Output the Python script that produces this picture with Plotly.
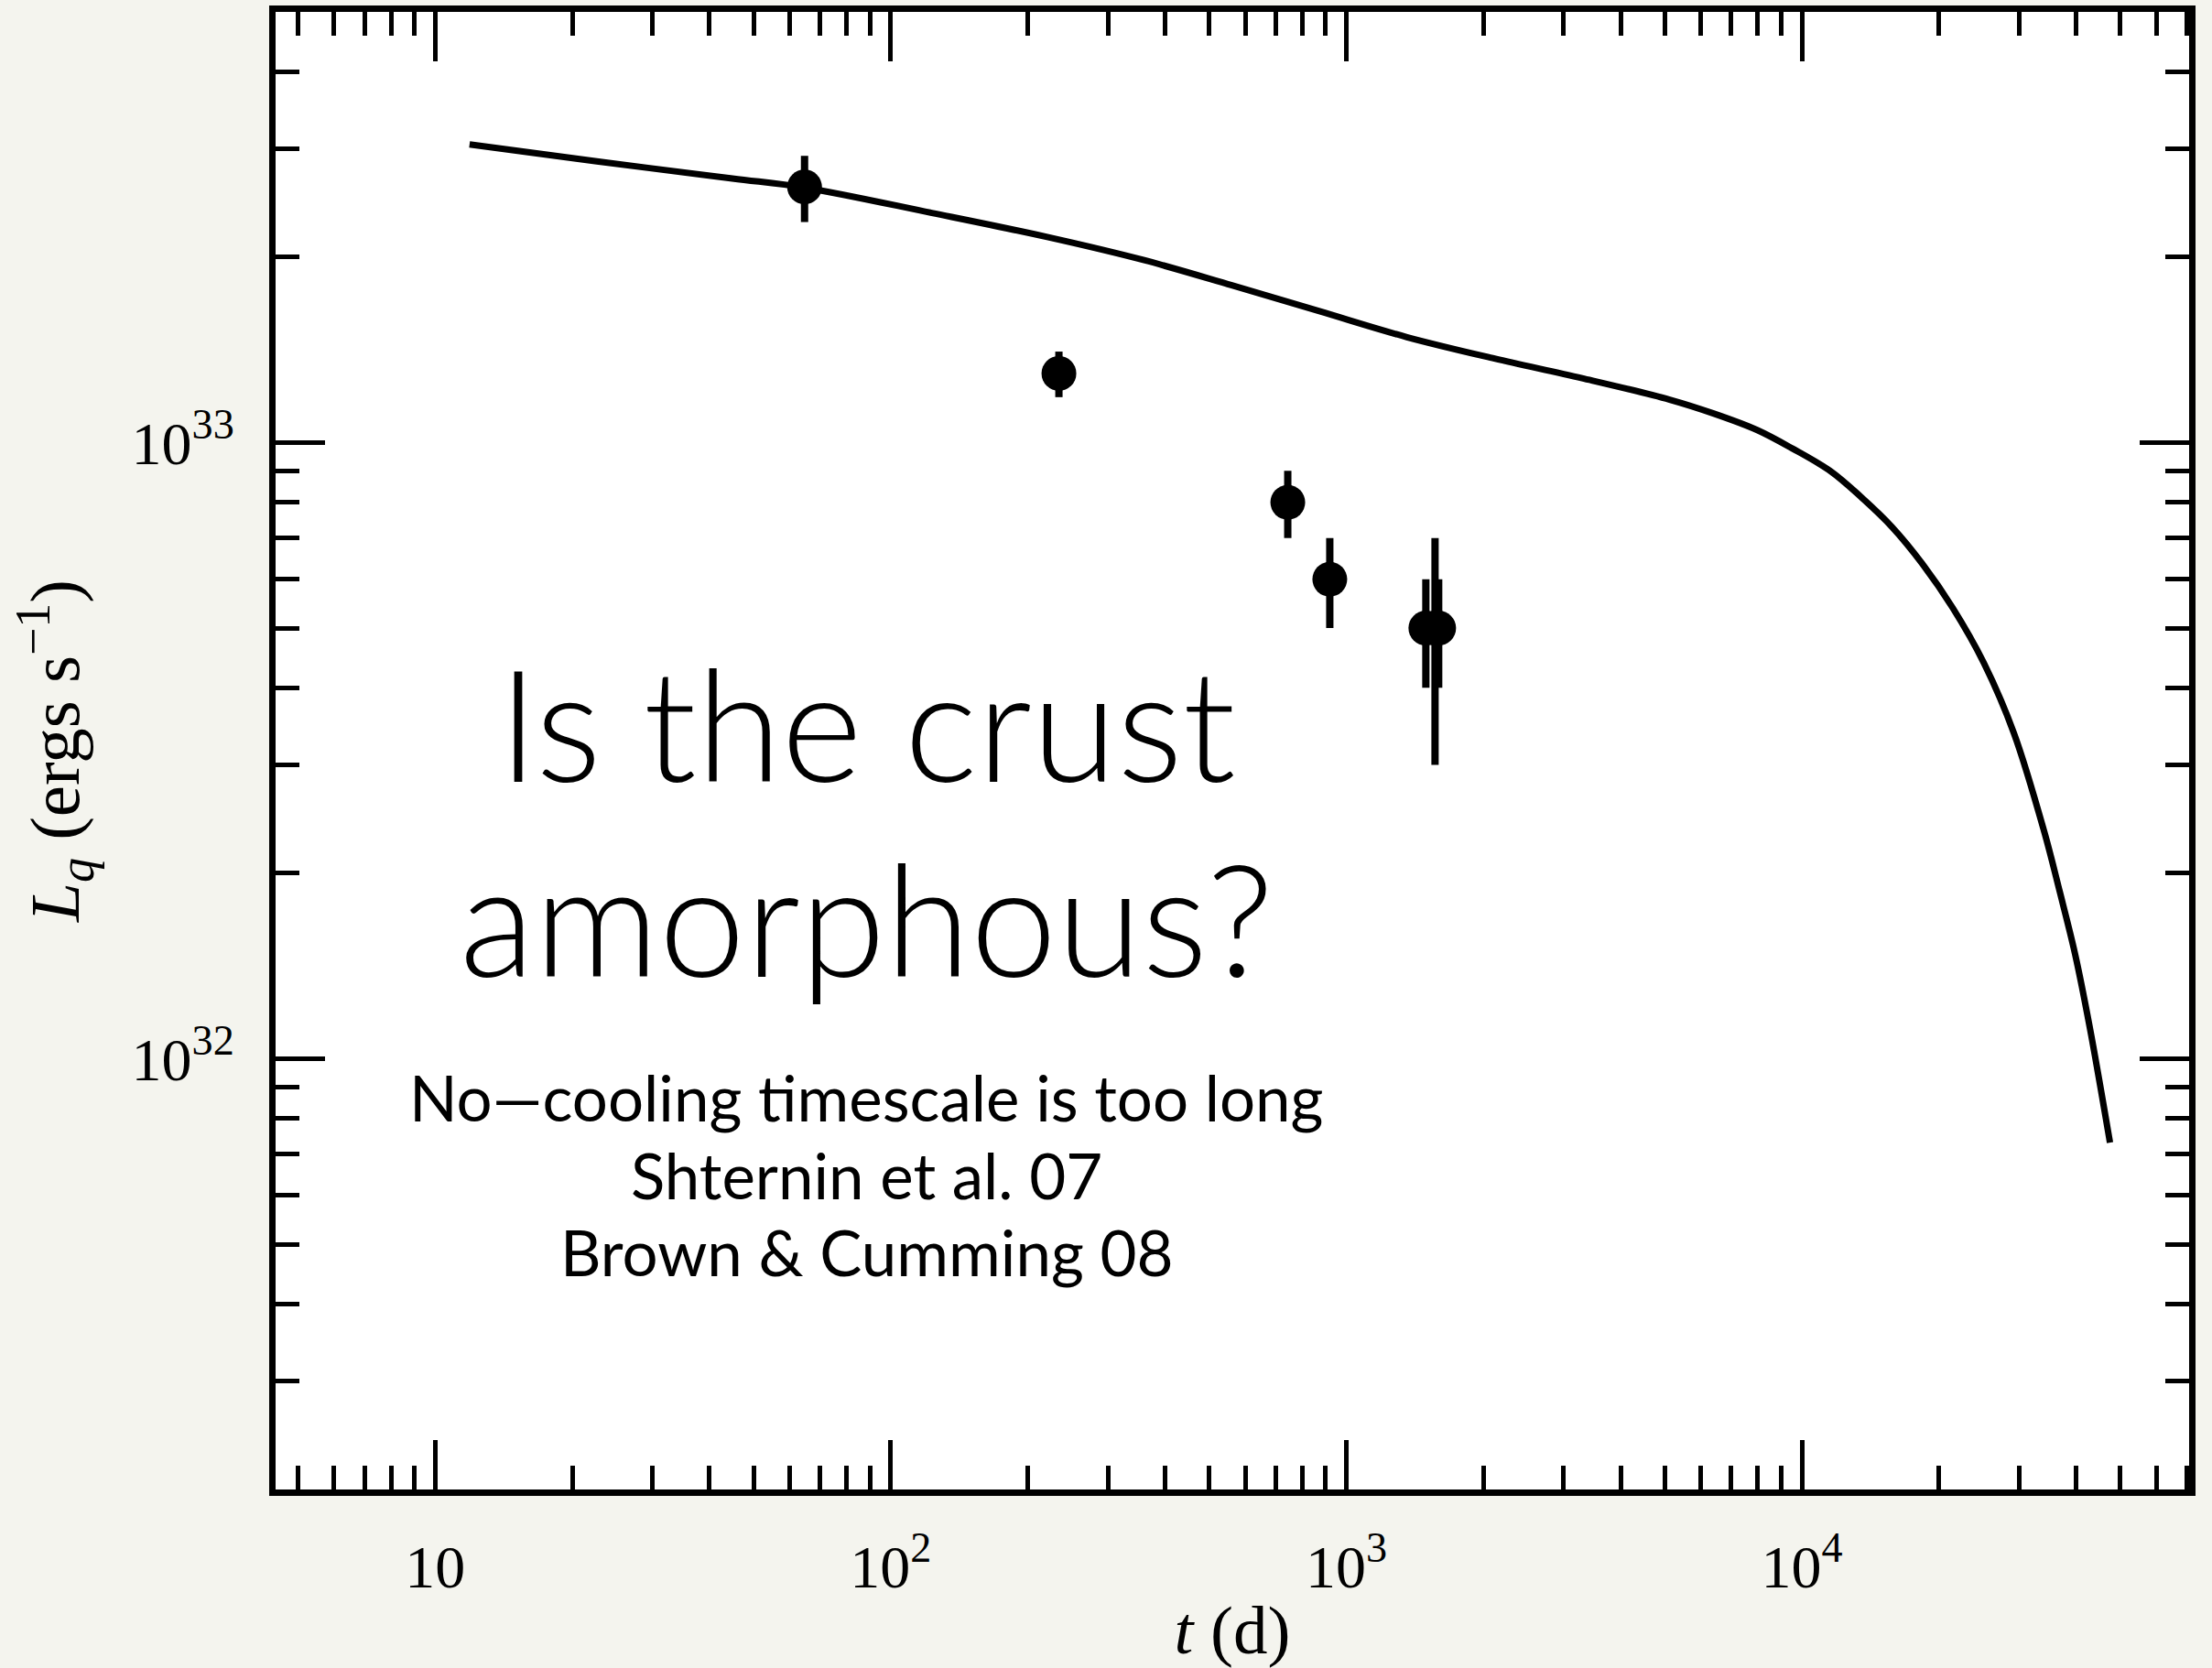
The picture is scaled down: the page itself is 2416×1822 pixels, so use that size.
import plotly.graph_objects as go

# Quiescent luminosity measurements: time since end of outburst (days)
t_obs = [64.7, 234, 744, 920, 1495, 1566, 1595]
L_obs = [2.60e33, 1.295e33, 8.0e32, 6.0e32, 5.0e32, 5.0e32, 5.0e32]
L_err = [0.32e33, 0.11e33, 1.0e32, 1.0e32, 1.0e32, 2.0e32, 1.0e32]

# Crust cooling model light curve
t_model = [11.90, 22.44, 44.92, 64.74, 123.1, 220.6, 360.1, 560.9, 872.9,
           1359, 2115, 3293, 5127, 6396, 7979, 9530, 11573, 13485, 15783,
           18386, 21418, 25063, 29197, 34012, 36808, 39807, 42863, 47465]
L_model = [3.048e33, 2.863e33, 2.683e33, 2.593e33, 2.359e33, 2.156e33,
           1.977e33, 1.800e33, 1.634e33, 1.483e33, 1.369e33, 1.272e33,
           1.174e33, 1.115e33, 1.048e33, 9.783e32, 8.982e32, 8.161e32,
           7.292e32, 6.359e32, 5.397e32, 4.396e32, 3.378e32, 2.342e32,
           1.869e32, 1.476e32, 1.123e32, 7.311e31]

# Axis ticks
x_major = [10, 100, 1000, 10000]
x_major_text = ["10", "10<sup>2</sup>", "10<sup>3</sup>", "10<sup>4</sup>"]
y_major = [1e32, 1e33]
y_major_text = ["10<sup>32</sup>", "10<sup>33</sup>"]
x_minor = [m * 10.0 ** e for e in range(0, 5) for m in range(2, 10)]
y_minor = [m * 10.0 ** e for e in range(31, 34) for m in range(2, 10)]

x_range = [0.6498, 4.850]
y_range = [31.30103, 33.69897]

# Slide-style overlay text
headline = ["Is the crust", "amorphous?"]
headline_y = [0.5194, 0.3874]
notes = ["No\u2014cooling timescale is too long", "Shternin et al. 07",
         "Brown &amp; Cumming 08"]
notes_y = [0.2654, 0.2131, 0.1607]

SERIF = "Liberation Serif"
SANS = "Lato"

fig = go.Figure()

fig.add_trace(go.Scatter(
    x=t_model, y=L_model, mode="lines",
    line=dict(color="black", width=7, shape="spline", smoothing=1.0),
    hoverinfo="skip",
))

fig.add_trace(go.Scatter(
    x=t_obs, y=L_obs, mode="markers",
    marker=dict(color="black", size=38, line=dict(width=0)),
    error_y=dict(type="data", array=L_err, color="black", thickness=8, width=0),
))

axis_common = dict(
    type="log", showline=True, linewidth=7, linecolor="black", mirror="ticks",
    ticks="inside", ticklen=54, tickwidth=5, tickcolor="black",
    tickmode="array", showgrid=False, zeroline=False,
    tickfont=dict(family=SERIF, size=66, color="black"),
)

fig.update_xaxes(
    **axis_common, range=x_range, tickvals=x_major, ticktext=x_major_text,
    minor=dict(ticks="inside", ticklen=26, tickwidth=5, tickcolor="black",
               tickmode="array", tickvals=x_minor, showgrid=False),
    ticklabelstandoff=21,
    title=dict(text="<i>t</i> (d)", font=dict(family=SERIF, size=75, color="black"),
               standoff=14),
)
fig.update_yaxes(
    **axis_common, range=y_range, tickvals=y_major, ticktext=y_major_text,
    minor=dict(ticks="inside", ticklen=26, tickwidth=5, tickcolor="black",
               tickmode="array", tickvals=y_minor, showgrid=False),
    ticklabelstandoff=25,
    title=dict(text="<i>L</i><sub><i>q</i></sub> (ergs s<sup>\u22121</sup>)",
               font=dict(family=SERIF, size=77, color="black"), standoff=34),
)

for txt, yy in zip(headline, headline_y):
    fig.add_annotation(
        xref="paper", yref="paper", x=0.309, y=yy, xanchor="center", yanchor="middle",
        text=txt, showarrow=False,
        font=dict(family=SANS, size=169, color="black", weight=300),
    )
for txt, yy in zip(notes, notes_y):
    fig.add_annotation(
        xref="paper", yref="paper", x=0.309, y=yy, xanchor="center", yanchor="middle",
        text=txt, showarrow=False,
        font=dict(family=SANS, size=69, color="black"),
    )

fig.update_layout(
    width=2416, height=1822,
    margin=dict(l=301, r=24.5, t=13, b=194.5, autoexpand=False),
    paper_bgcolor="#f4f4ee", plot_bgcolor="white",
    showlegend=False,
)

fig.write_html("out.html")
